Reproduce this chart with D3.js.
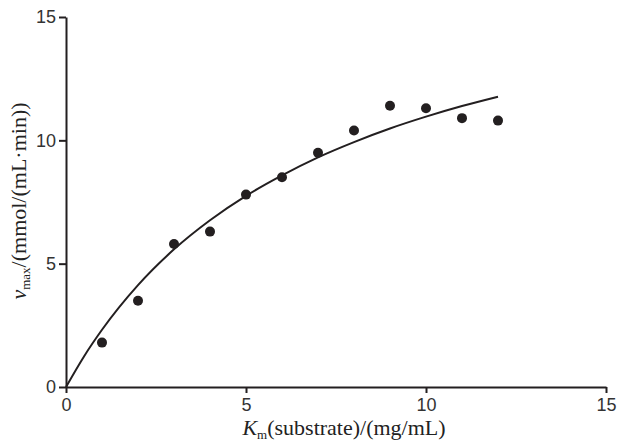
<!DOCTYPE html>
<html><head><meta charset="utf-8">
<script src="https://cdn.jsdelivr.net/npm/d3@7"></script>
<style>body{margin:0;background:#fff}svg{display:block}</style>
</head><body>
<svg id="c" width="617" height="444"></svg>
<script>
const xTicks = [0, 5, 10, 15];
const yTicks = [0, 5, 10, 15];
const pointX = [1, 2, 3, 4, 5, 6, 7, 8, 9, 10, 11, 12];
const pointY = [1.8, 3.5, 5.8, 6.3, 7.8, 8.5, 9.5, 10.4, 11.4, 11.3, 10.9, 10.8];
const curveX = [0, 0.5, 1, 2, 3, 4, 5, 6, 7, 8, 9, 10, 11, 12];
const curveY = [0, 1.24, 2.32, 4.13, 5.58, 6.76, 7.75, 8.58, 9.31, 9.93, 10.48, 10.96, 11.39, 11.77];

const svg = d3.select("#c");
const x = d3.scaleLinear().domain([0, 15]).range([66, 606]);
const y = d3.scaleLinear().domain([0, 15]).range([387, 17]);
const ink = "#231f20";

const gx = svg.append("g").attr("transform", "translate(0,387)")
  .call(d3.axisBottom(x).tickValues(xTicks).tickSize(6).tickPadding(5).tickSizeOuter(0));
const gy = svg.append("g").attr("transform", "translate(66,0)")
  .call(d3.axisLeft(y).tickValues(yTicks).tickSize(7).tickPadding(3).tickSizeOuter(0));
[gx, gy].forEach(g => {
  g.select(".domain").attr("stroke", ink).attr("stroke-width", 2);
  g.selectAll(".tick line").attr("stroke", ink).attr("stroke-width", 2);
  g.selectAll(".tick text").attr("fill", "#333").attr("font-family", "Liberation Sans, Arial, sans-serif").attr("font-size", 18);
});

const line = d3.line().x((d, i) => x(curveX[i])).y(d => y(d)).curve(d3.curveMonotoneX);
svg.append("path").datum(curveY).attr("d", line)
  .attr("fill", "none").attr("stroke", ink).attr("stroke-width", 2);

svg.append("g").selectAll("circle").data(pointY).join("circle")
  .attr("cx", (d, i) => x(pointX[i])).attr("cy", d => y(d)).attr("r", 5).attr("fill", ink);

const serif = "Liberation Serif, Times New Roman, serif";
const xt = svg.append("text").attr("x", 344).attr("y", 435).attr("text-anchor", "middle")
  .attr("font-family", serif).attr("font-size", 22).attr("fill", "#222");
xt.append("tspan").attr("font-style", "italic").text("K");
xt.append("tspan").attr("font-size", 13).attr("dy", 4).text("m");
xt.append("tspan").attr("dy", -4).text("(substrate)/(mg/mL)");

const yt = svg.append("text").attr("transform", "translate(26,201) rotate(-90)").attr("text-anchor", "middle")
  .attr("font-family", serif).attr("font-size", 22).attr("fill", "#222");
yt.append("tspan").attr("font-style", "italic").text("v");
yt.append("tspan").attr("font-size", 13).attr("dy", 4).text("max");
yt.append("tspan").attr("dy", -4).text("/(mmol/(mL·min))");
</script>
</body></html>
